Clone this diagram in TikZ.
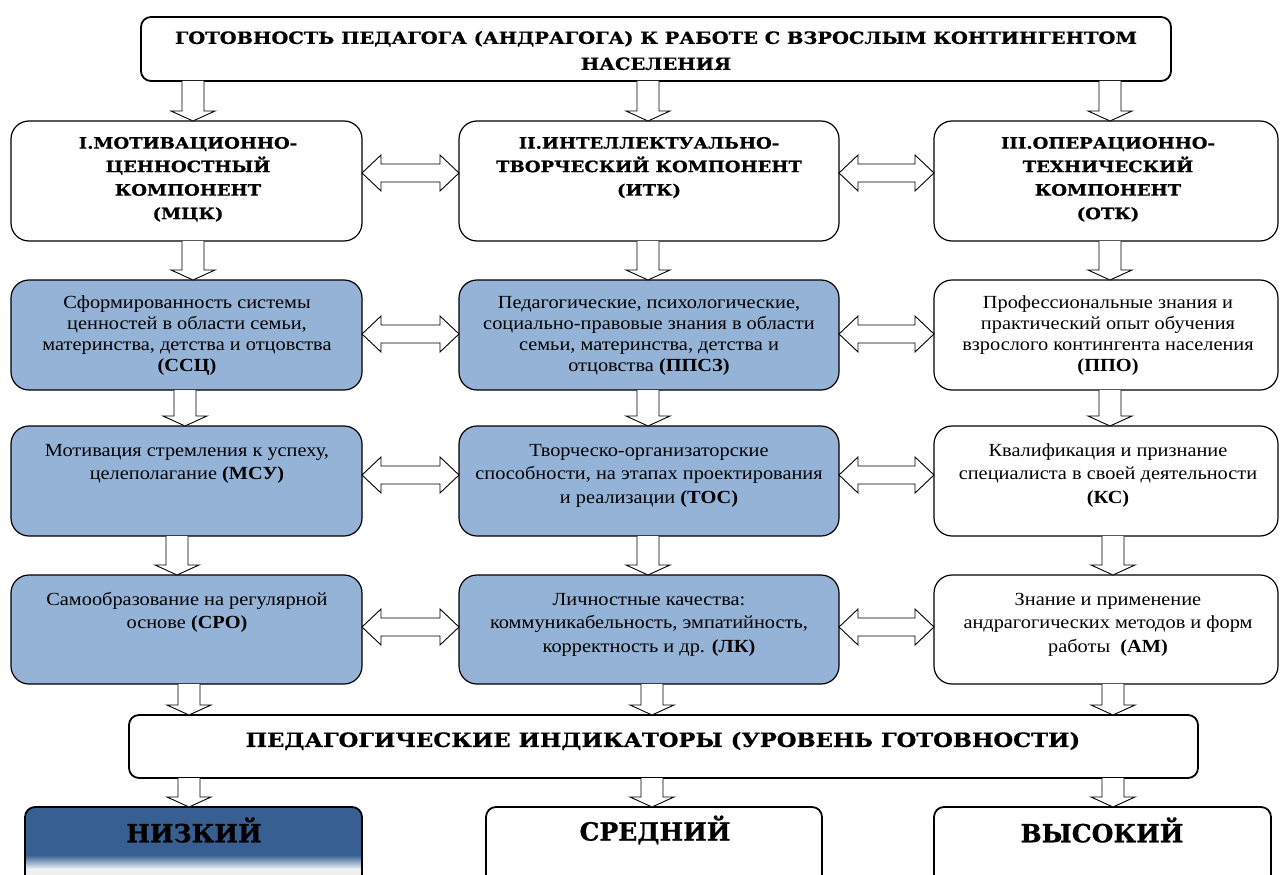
\documentclass[tikz,border=0pt]{standalone}
\usepackage{fontspec}
\setmainfont{Liberation Serif}[FakeStretch=1.1]
\newfontfamily\hfont{DejaVu Serif}[BoldFeatures={FakeStretch=1.15,FakeBold=0.8}]
\newfontfamily\lfont{DejaVu Serif}[BoldFeatures={FakeBold=0.8}]
\usetikzlibrary{calc}
\definecolor{lblue}{HTML}{95B3D7}
\definecolor{dblue}{HTML}{375F92}
\tikzset{
  box/.style={draw=black, line width=1.2pt, rounded corners=18pt, anchor=north west, inner sep=0pt, outer sep=0pt},
  bigbox/.style={draw=black, line width=1.8pt, rounded corners=10pt, anchor=north west, inner sep=0pt, outer sep=0pt},
  filled/.style={fill=lblue},
  headtxt/.style={font=\hfont\bfseries\fontsize{15.7}{23.5}\selectfont, align=center, inner sep=0pt, anchor=north},
  bodytxt/.style={font=\fontsize{18.5}{21}\selectfont, align=center, inner sep=0pt, anchor=north},
  bodytxtw/.style={font=\fontsize{18.5}{23.7}\selectfont, align=center, inner sep=0pt, anchor=north},
  leveltxt/.style={font=\lfont\bfseries\fontsize{25}{30}\selectfont, inner sep=0pt, anchor=center},
  blk/.style={draw=black, line width=0.9pt, fill=white, line join=miter},
}
\newcommand\vblk[3]{%
  \coordinate (vs) at (#1,0 |- #2.south);
  \coordinate (ve) at (#1,0 |- #3.north);
  \draw[blk] ([xshift=-11pt]vs) -- ([xshift=-11pt,yshift=10pt]ve) -- ([xshift=-22pt,yshift=10pt]ve) -- (ve) -- ([xshift=22pt,yshift=10pt]ve) -- ([xshift=11pt,yshift=10pt]ve) -- ([xshift=11pt]vs);
}
\newcommand\hblk[3]{%
  \coordinate (hs) at (#2.east |- 0,#1);
  \coordinate (he) at (#3.west |- 0,#1);
  \draw[blk] (hs) -- ([xshift=19pt,yshift=18pt]hs) -- ([xshift=19pt,yshift=9pt]hs) -- ([xshift=-19pt,yshift=9pt]he) -- ([xshift=-19pt,yshift=18pt]he) -- (he) -- ([xshift=-19pt,yshift=-18pt]he) -- ([xshift=-19pt,yshift=-9pt]he) -- ([xshift=19pt,yshift=-9pt]hs) -- ([xshift=19pt,yshift=-18pt]hs) -- cycle;
}
\begin{document}
\begin{tikzpicture}[x=1pt,y=-1pt]
\useasboundingbox (0,0) rectangle (1280,875);
\clip (0,0) rectangle (1280,875);
\fill[white] (0,0) rectangle (1280,875);

% top
\node[bigbox, minimum width=1030pt, minimum height=64pt] (top) at (141,17) {};
\node[headtxt, font=\hfont\bfseries\fontsize{16.9}{26}\selectfont] (toptxt) at (656,25.5) {\strut ГОТОВНОСТЬ ПЕДАГОГА (АНДРАГОГА) К РАБОТЕ С ВЗРОСЛЫМ КОНТИНГЕНТОМ\\НАСЕЛЕНИЯ};

% row 1
\node[box, minimum width=351pt, minimum height=120pt] (mck) at (11,121) {};
\node[box, minimum width=380pt, minimum height=120pt] (itk) at (459,121) {};
\node[box, minimum width=344pt, minimum height=120pt] (otk) at (934,121) {};
\node[headtxt] (mcktxt) at (188,132) {\strut I.МОТИВАЦИОННО-\\ЦЕННОСТНЫЙ\\КОМПОНЕНТ\\(МЦК)};
\node[headtxt] (itktxt) at (649,132) {\strut II.ИНТЕЛЛЕКТУАЛЬНО-\\ТВОРЧЕСКИЙ КОМПОНЕНТ\\(ИТК)};
\node[headtxt] (otktxt) at (1108,132) {\strut III.ОПЕРАЦИОННО-\\ТЕХНИЧЕСКИЙ\\КОМПОНЕНТ\\(ОТК)};

% row 2
\node[box, filled, minimum width=351pt, minimum height=110pt] (ssc) at (11,280) {};
\node[box, filled, minimum width=380pt, minimum height=110pt] (ppsz) at (459,280) {};
\node[box, minimum width=344pt, minimum height=110pt] (ppo) at (934,280) {};
\node[bodytxt] (ssctxt) at (187,294) {\strut Сформированность системы\\ценностей в области семьи,\\материнства, детства и отцовства\\\textbf{(ССЦ)}};
\node[bodytxt] (ppsztxt) at (649,294) {\strut Педагогические, психологические,\\социально-правовые знания в области\\семьи, материнства, детства и\\отцовства \textbf{(ППСЗ)}};
\node[bodytxt] (ppotxt) at (1108,294) {\strut Профессиональные знания и\\практический опыт обучения\\взрослого контингента населения\\\textbf{(ППО)}};

% row 3
\node[box, filled, minimum width=351pt, minimum height=110pt] (msu) at (11,426) {};
\node[box, filled, minimum width=380pt, minimum height=110pt] (tos) at (459,426) {};
\node[box, minimum width=344pt, minimum height=110pt] (ks) at (934,426) {};
\node[bodytxtw] (msutxt) at (187,439.5) {\strut Мотивация стремления к успеху,\\целеполагание \textbf{(МСУ)}};
\node[bodytxtw] (tostxt) at (649,439.5) {\strut Творческо-организаторские\\способности, на этапах проектирования\\и реализации \textbf{(ТОС)}};
\node[bodytxtw] (kstxt) at (1108,439.5) {\strut Квалификация и признание\\специалиста в своей деятельности\\\textbf{(КС)}};

% row 4
\node[box, filled, minimum width=351pt, minimum height=109pt] (sro) at (11,575) {};
\node[box, filled, minimum width=380pt, minimum height=109pt] (lk) at (459,575) {};
\node[box, minimum width=344pt, minimum height=109pt] (am) at (934,575) {};
\node[bodytxtw] (srotxt) at (187,588.5) {\strut Самообразование на регулярной\\основе \textbf{(СРО)}};
\node[bodytxtw] (lktxt) at (649,588.5) {\strut Личностные качества:\\коммуникабельность, эмпатийность,\\корректность и др. \textbf{(ЛК)}};
\node[bodytxtw] (amtxt) at (1108,588.5) {\strut Знание и применение\\андрагогических методов и форм\\работы~~\textbf{(АМ)}};

% indicators
\node[bigbox, minimum width=1069pt, minimum height=63pt] (ind) at (129,715) {};
\node[headtxt, anchor=center, font=\hfont\bfseries\fontsize{19.7}{24}\selectfont] (indtxt) at (663,741) {ПЕДАГОГИЧЕСКИЕ ИНДИКАТОРЫ (УРОВЕНЬ ГОТОВНОСТИ)};

% levels
\fill[dblue, rounded corners=10pt] (25,807) rectangle (362,907);
\begin{scope}
  \clip (25,807) rectangle (362,907);
  \shade[top color=dblue, bottom color=white] (20,855) rectangle (367,870);
  \fill[white!94!black] (20,870) rectangle (367,910);
\end{scope}
\node[bigbox, minimum width=337pt, minimum height=100pt] (low) at (25,807) {};
\node[bigbox, minimum width=336pt, minimum height=100pt] (mid) at (486,807) {};
\node[bigbox, minimum width=337pt, minimum height=100pt] (high) at (934,807) {};
\node[leveltxt] (lowtxt) at (194,830) {НИЗКИЙ};
\node[leveltxt] (midtxt) at (655,830) {СРЕДНИЙ};
\node[leveltxt] (hightxt) at (1102,830) {ВЫСОКИЙ};

% vertical arrows
\vblk{193}{top}{mck}
\vblk{648}{top}{itk}
\vblk{1110}{top}{otk}
\vblk{193}{mck}{ssc}
\vblk{648}{itk}{ppsz}
\vblk{1110}{otk}{ppo}
\vblk{185}{ssc}{msu}
\vblk{648}{ppsz}{tos}
\vblk{1110}{ppo}{ks}
\vblk{177}{msu}{sro}
\vblk{648}{tos}{lk}
\vblk{1113}{ks}{am}
\vblk{189}{sro}{ind}
\vblk{652}{lk}{ind}
\vblk{1113}{am}{ind}
\vblk{189}{ind}{low}
\vblk{652}{ind}{mid}
\vblk{1113}{ind}{high}

% horizontal arrows
\hblk{173}{mck}{itk}
\hblk{173}{itk}{otk}
\hblk{334}{ssc}{ppsz}
\hblk{334}{ppsz}{ppo}
\hblk{475}{msu}{tos}
\hblk{475}{tos}{ks}
\hblk{627}{sro}{lk}
\hblk{627}{lk}{am}
\end{tikzpicture}
\end{document}
